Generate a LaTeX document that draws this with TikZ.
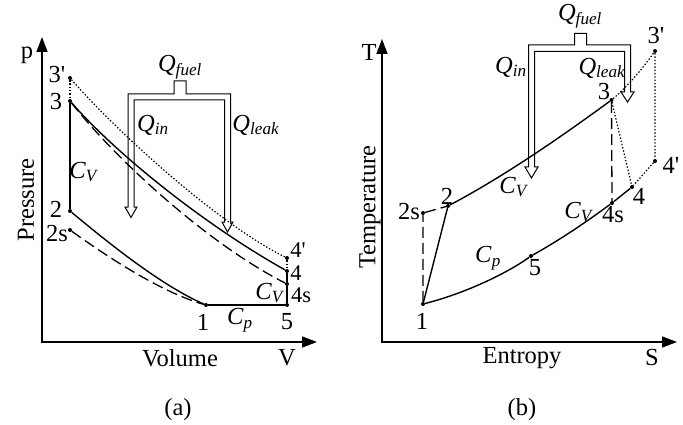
\documentclass[tikz,border=0pt]{standalone}
\usepackage{fontspec}
\setmainfont{Liberation Serif}
\usetikzlibrary{arrows.meta}

\begin{document}
\begin{tikzpicture}[
  x=1pt, y=-1pt,
  pt/.style={circle, fill=black, inner sep=0pt, minimum size=4pt},
  lbl/.style={inner sep=0pt, font=\fontsize{24.5}{26}\selectfont},
  tight/.style={lbl, font=\fontsize{22.5}{24}\selectfont},
  axis/.style={line width=1.5pt, {Triangle[length=15pt,width=11pt]}-{Triangle[length=15pt,width=11pt]}},
  real/.style={line width=1.4pt},
  ideal/.style={line width=1.3pt, dash pattern=on 11pt off 5pt},
  lossy/.style={line width=1.2pt, dash pattern=on 1.4pt off 1.9pt},
  pipe/.style={line width=1pt}
]
  \useasboundingbox (0,0) rectangle (683,425);

  % (a) p-V diagram
  \coordinate (Lorig) at (42,342);
  \coordinate (Ltop) at (42,37);
  \coordinate (Lend) at (317,342);
  \draw[axis] (Ltop) -- (Lorig) -- (Lend);
  \node[lbl] (Lp) at (27,55) {p};
  \node[lbl, rotate=90] (Lpress) at (26,200) {Pressure};
  \node[lbl] (Lvol) at (180,358) {Volume};
  \node[lbl] (LV) at (287,358) {V};
  \node[lbl] (La) at (178,410) {(a)};

  \node[pt] (L3p) at (70,78) {};
  \node[pt] (L3) at (70,101) {};
  \node[pt] (L2) at (70,211) {};
  \node[pt] (L2s) at (70,230) {};
  \node[pt] (L1) at (206,305) {};
  \node[pt] (L5) at (287,305) {};
  \node[pt] (L4s) at (287,284) {};
  \node[pt] (L4) at (287,271) {};
  \node[pt] (L4p) at (287,258) {};

  \draw[real] (L3) -- (L2);
  \draw[real] (L4) -- (L4s) -- (L5) -- (L1);
  \draw[lossy] (L3p) -- (L3);
  \draw[lossy] (L4p) -- (L4);
  \draw[real] (L3) .. controls (120,158) and (210,228) .. (L4);
  \draw[ideal] (L3) .. controls (118,162) and (210,245) .. (L4s);
  \draw[lossy] (L3p) .. controls (120,135) and (220,225) .. (L4p);
  \draw[real] (L2) .. controls (105,240) and (160,285) .. (L1);
  \draw[ideal] (L2s) .. controls (105,255) and (160,292) .. (L1);

  \node[lbl] (L3p-l) at (57,75) {3\textquotesingle};
  \node[lbl] (L3-l) at (56,102) {3};
  \node[lbl] (L2-l) at (56,209) {2};
  \node[lbl] (L2s-l) at (57,234) {2s};
  \node[lbl] (L1-l) at (203,322) {1};
  \node[lbl] (L5-l) at (287,322) {5};
  \node[tight] (L4s-l) at (301,295) {4s};
  \node[tight] (L4-l) at (296,273) {4};
  \node[tight] (L4p-l) at (298,250) {4\textquotesingle};
  \node[lbl] (LCv) at (84,172) {\textit{C}\textsubscript{\textit{V}}};
  \node[lbl] (LCv2) at (270,293) {\textit{C}\textsubscript{\textit{V}}};
  \node[lbl] (LCp) at (240,320) {\textit{C}\textsubscript{\textit{p}}};

  \draw[pipe] (174,81) -- (186,81) -- (186,94) -- (230.5,94) -- (230.5,222)
    -- (233,222) -- (227.5,232) -- (222,222) -- (224.5,222) -- (224.5,100)
    -- (134,100) -- (134,207) -- (137,207) -- (131,217.5) -- (125,207)
    -- (128,207) -- (128,94) -- (174,94) -- cycle;
  \node[lbl] (LQf) at (180,67) {\textit{Q}\textsubscript{\textit{fuel}}};
  \node[lbl] (LQi) at (153,125) {\textit{Q}\textsubscript{\textit{in}}};
  \node[lbl] (LQl) at (256,125) {\textit{Q}\textsubscript{\textit{leak}}};

  % (b) T-S diagram
  \coordinate (Rorig) at (382,342);
  \coordinate (Rtop) at (382,39);
  \coordinate (Rend) at (677,342);
  \draw[axis] (Rtop) -- (Rorig) -- (Rend);
  \node[lbl] (RT) at (369,52) {T};
  \node[lbl, rotate=90] (Rtemp) at (370,207) {Temperature};
  \node[lbl] (Rent) at (522,358) {Entropy};
  \node[lbl] (RS) at (652,358) {S};
  \node[lbl] (Rb) at (522,410) {(b)};

  \node[pt] (R1) at (423,304) {};
  \node[pt] (R2s) at (423,213) {};
  \node[pt] (R2) at (448,206) {};
  \node[pt] (R3) at (611.5,100) {};
  \node[pt] (R3p) at (655,51) {};
  \node[pt] (R4p) at (655,161) {};
  \node[pt] (R4) at (632,187) {};
  \node[pt] (R4s) at (612,203) {};
  \node[pt] (R5) at (531,256) {};

  \draw[real] (R1) -- (R2);
  \draw[ideal] (R1) -- (R2s) -- (R2);
  \draw[real] (R2) .. controls (503,177) and (561,137) .. (R3);
  \draw[lossy] (R3) .. controls (628,86) and (643,68) .. (R3p);
  \draw[lossy] (R3p) -- (R4p) -- (R4);
  \draw[lossy] (R3) -- (R4);
  \draw[ideal] (R3) -- (R4s);
  \draw[real] (R4) -- (R4s);
  \draw[real] (R4s) .. controls (585,223) and (558,241) .. (R5);
  \draw[real] (R5) .. controls (506,274) and (463,294) .. (R1);

  \node[lbl] (R1-l) at (422,321) {1};
  \node[lbl] (R2s-l) at (409,212) {2s};
  \node[lbl] (R2-l) at (447,196) {2};
  \node[lbl] (R3-l) at (604,92) {3};
  \node[lbl] (R3p-l) at (656,36) {3\textquotesingle};
  \node[lbl] (R4p-l) at (671,165) {4\textquotesingle};
  \node[lbl] (R4-l) at (639,196) {4};
  \node[lbl] (R4s-l) at (613,215) {4s};
  \node[lbl] (R5-l) at (535,268) {5};
  \node[lbl] (RCv) at (514,187) {\textit{C}\textsubscript{\textit{V}}};
  \node[lbl] (RCv2) at (579,212) {\textit{C}\textsubscript{\textit{V}}};
  \node[lbl] (RCp) at (488,258) {\textit{C}\textsubscript{\textit{p}}};

  \draw[pipe] (574.5,33.5) -- (586.5,33.5) -- (586.5,45) -- (630.5,45) -- (630.5,92)
    -- (634,92) -- (627.5,102) -- (621,92) -- (624.5,92) -- (624.5,51.5)
    -- (534.5,51.5) -- (534.5,167) -- (538,167) -- (531.5,178) -- (525,167)
    -- (528.5,167) -- (528.5,45) -- (574.5,45) -- cycle;
  \node[lbl] (RQf) at (580,16) {\textit{Q}\textsubscript{\textit{fuel}}};
  \node[lbl] (RQi) at (511,67) {\textit{Q}\textsubscript{\textit{in}}};
  \node[lbl] (RQl) at (602,68) {\textit{Q}\textsubscript{\textit{leak}}};
\end{tikzpicture}
\end{document}
